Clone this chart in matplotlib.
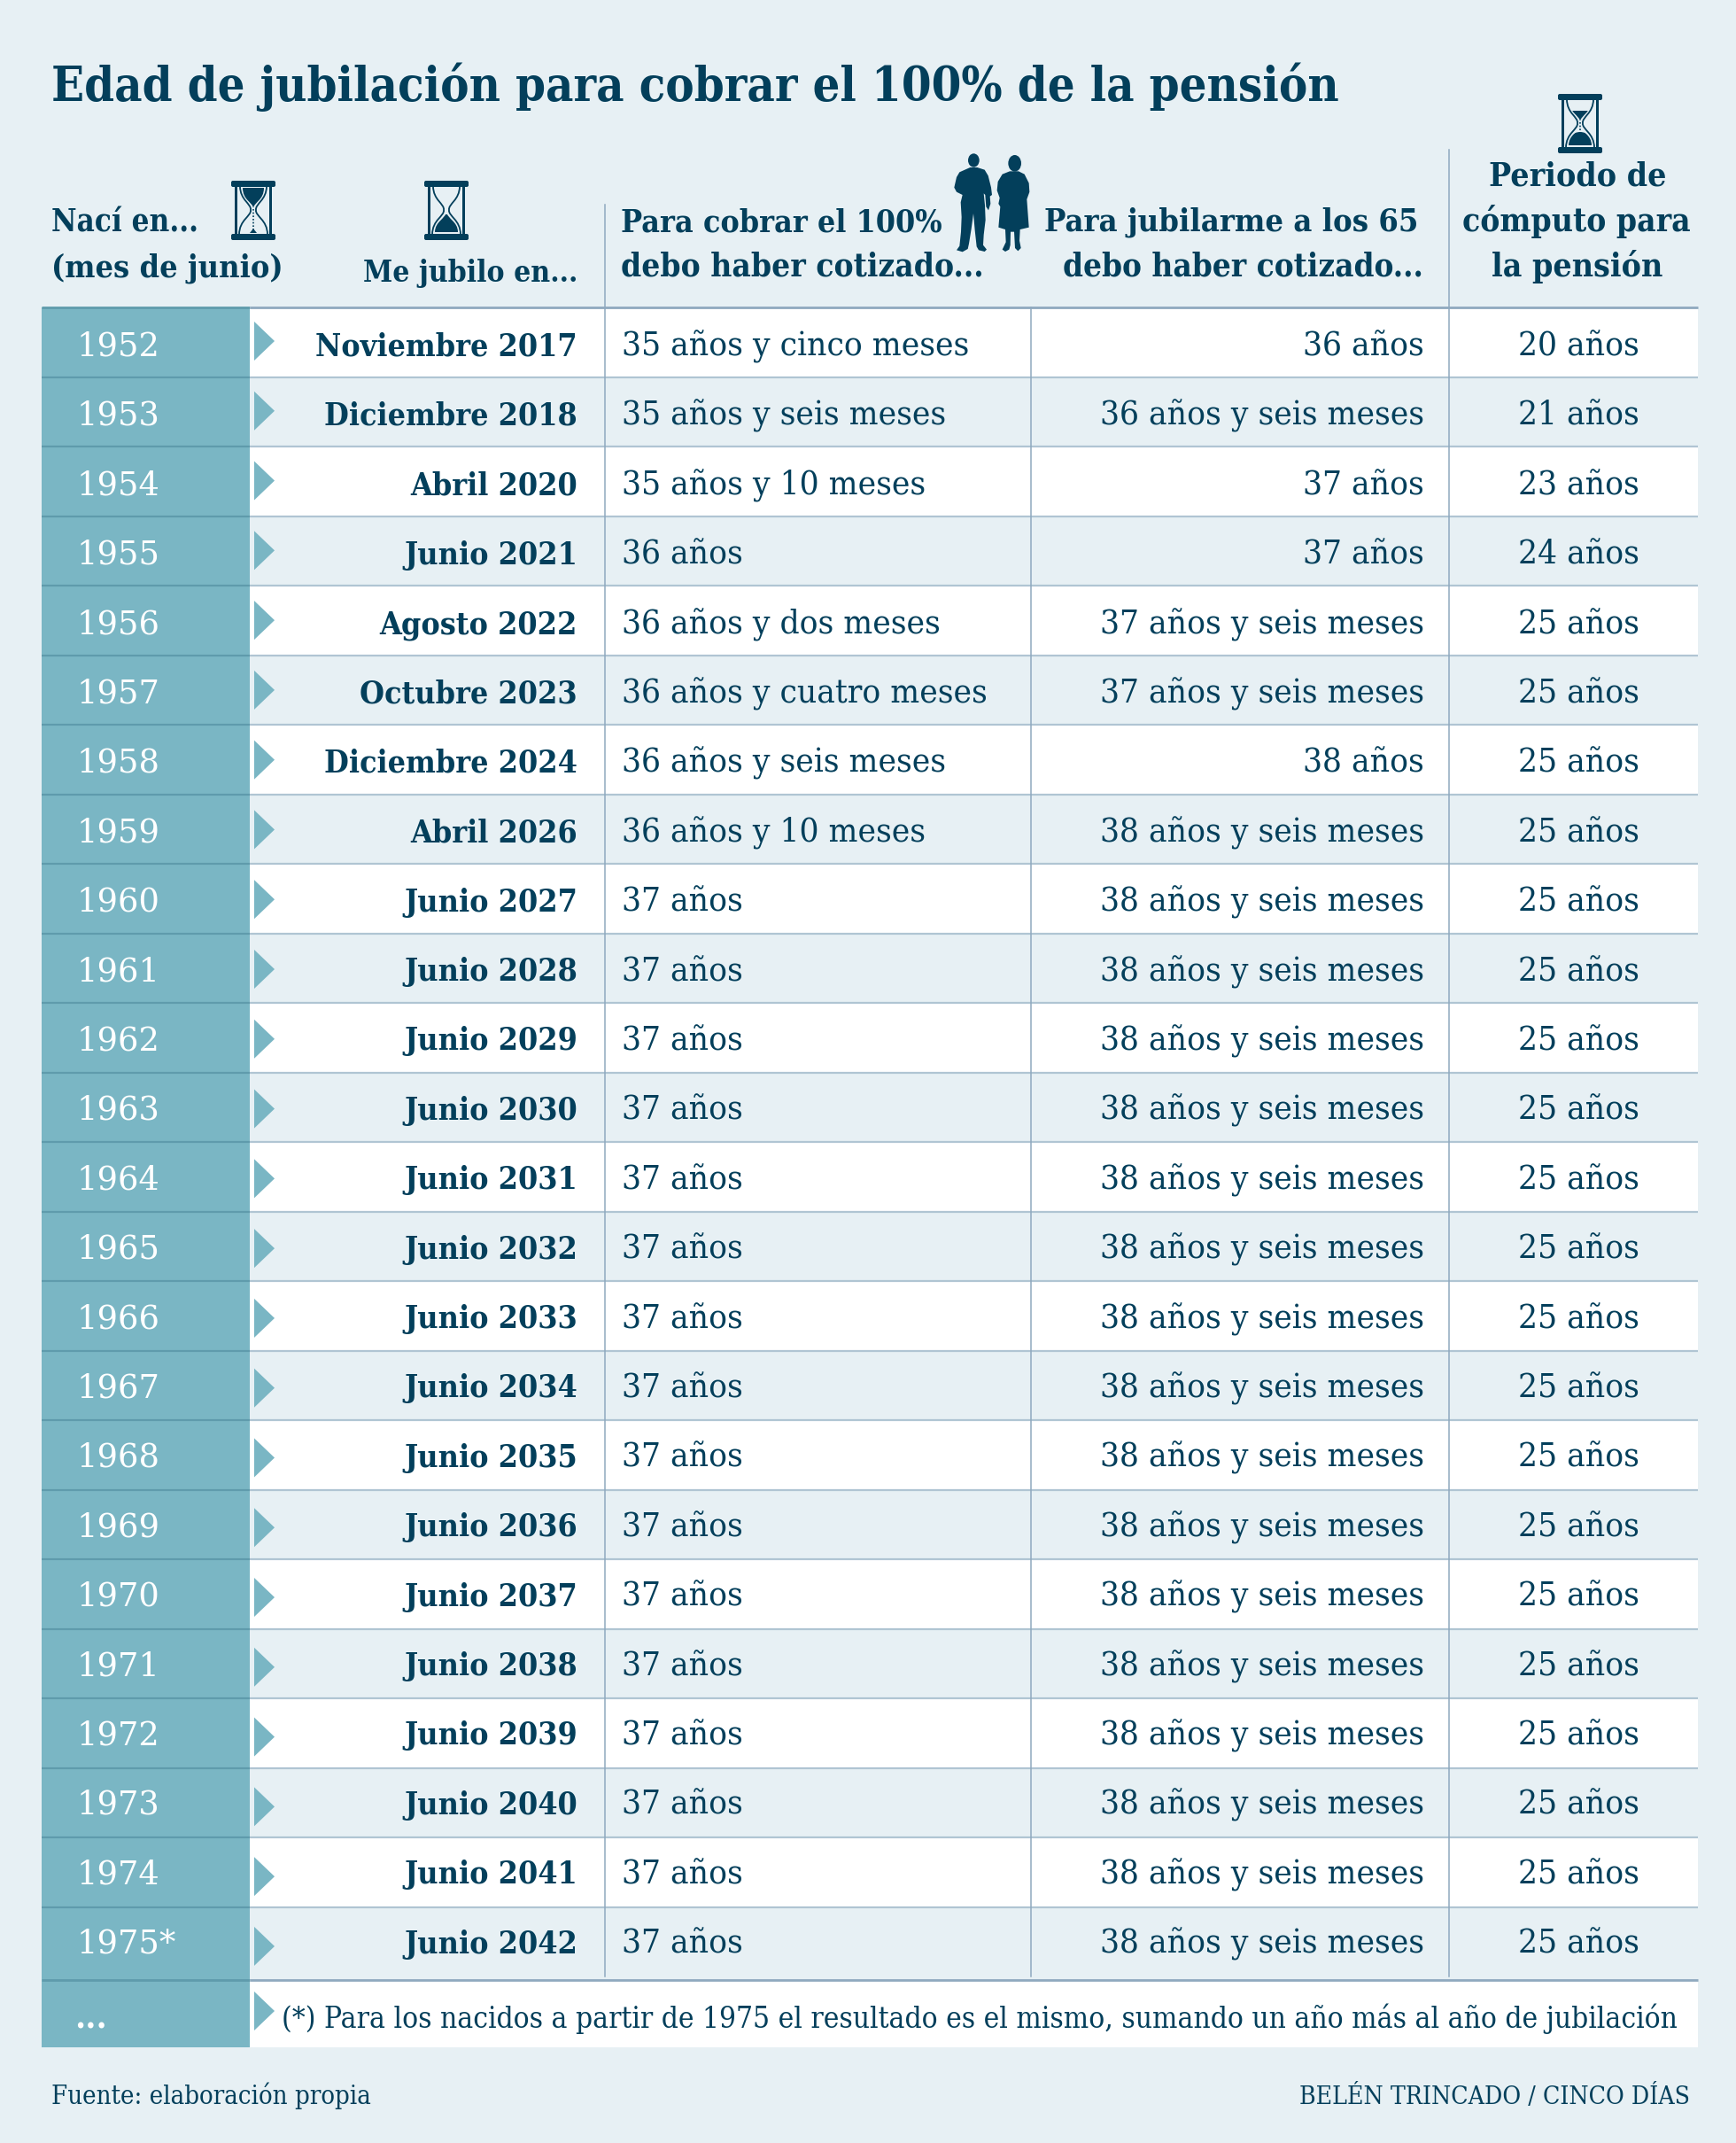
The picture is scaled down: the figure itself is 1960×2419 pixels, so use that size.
import matplotlib
matplotlib.use('Agg')
import matplotlib.pyplot as plt
from matplotlib.patches import Polygon, Ellipse, Rectangle, FancyBboxPatch, PathPatch
from matplotlib.path import Path

years = ['1952', '1953', '1954', '1955', '1956', '1957', '1958', '1959', '1960', '1961', '1962', '1963',
         '1964', '1965', '1966', '1967', '1968', '1969', '1970', '1971', '1972', '1973', '1974', '1975*']
retire = ['Noviembre 2017', 'Diciembre 2018', 'Abril 2020', 'Junio 2021', 'Agosto 2022', 'Octubre 2023',
          'Diciembre 2024', 'Abril 2026', 'Junio 2027', 'Junio 2028', 'Junio 2029', 'Junio 2030',
          'Junio 2031', 'Junio 2032', 'Junio 2033', 'Junio 2034', 'Junio 2035', 'Junio 2036',
          'Junio 2037', 'Junio 2038', 'Junio 2039', 'Junio 2040', 'Junio 2041', 'Junio 2042']
full_pension = ['35 años y cinco meses', '35 años y seis meses', '35 años y 10 meses', '36 años',
                '36 años y dos meses', '36 años y cuatro meses', '36 años y seis meses', '36 años y 10 meses'] + ['37 años'] * 16
at_65 = ['36 años', '36 años y seis meses', '37 años', '37 años', '37 años y seis meses', '37 años y seis meses',
         '38 años'] + ['38 años y seis meses'] * 17
period = ['20 años', '21 años', '23 años', '24 años'] + ['25 años'] * 20

BG = '#E7F0F4'
TEAL = '#7AB6C4'
TEAL_LINE = '#5F9BAC'
INK = '#033F5B'
LINE = '#B0C5D3'
LINE_TOP = '#8FA9BF'

SERIF = 'DejaVu Serif'

# silhouettes, in icon pixels
man_shape = [(100, 72), (125, 80), (137, 100), (147, 140), (150, 165), (143, 170), (145, 195), (138, 217), (130, 205),
             (127, 165), (122, 160), (126, 200), (128, 250), (122, 300), (120, 335), (132, 350), (125, 357), (105, 352),
             (98, 340), (92, 285), (87, 228), (80, 280), (72, 330), (68, 348), (50, 358), (30, 352), (40, 338), (45, 290),
             (47, 240), (44, 190), (50, 165), (30, 155), (22, 140), (30, 105), (40, 88), (76, 72)]
woman_shape = [(240, 85), (260, 95), (275, 125), (277, 155), (268, 180), (275, 275), (245, 282), (243, 320), (248, 345),
               (238, 355), (228, 345), (225, 290), (213, 290), (212, 335), (208, 350), (195, 357), (185, 350), (197, 325),
               (195, 282), (172, 275), (178, 205), (172, 195), (176, 175), (167, 150), (170, 120), (185, 95), (210, 85)]

fig = plt.figure(figsize=(19.6, 24.19), dpi=100, facecolor=BG)
ax = fig.add_axes([0, 0, 1, 1])
ax.set_xlim(0, 1960)
ax.set_ylim(2419, 0)
ax.axis('off')

left, teal_r, right = 47, 282, 1917
top, row_h = 347, 78.5
text_h = 78.4
arrow_h = 78.78
n = len(years)
bottom = 2235
end = 2311


def hourglass(x0, y0, top_level=None, bottom_level=None, dots=False, pile=False):
    w, h = 50, 67
    cx = x0 + w / 2
    for yy in (y0, y0 + h - 7):
        ax.add_patch(FancyBboxPatch((x0 + 2, yy + 2), w - 4, 3, boxstyle='round,pad=2', fc=INK, ec='none'))
    for xx in (x0 + 4, x0 + w - 7):
        ax.add_patch(Rectangle((xx, y0 + 5), 3, h - 10, fc=INK, ec='none'))
    C = Path.CURVE4
    # glass outline
    for s in (-1, 1):
        verts = [(cx + s * 15, y0 + 6), (cx + s * 15, y0 + 22), (cx + s * 2, y0 + 26), (cx + s * 3, y0 + 33),
                 (cx + s * 2, y0 + 40), (cx + s * 16, y0 + 44), (cx + s * 16, y0 + 61)]
        ax.add_patch(PathPatch(Path(verts, [Path.MOVETO, C, C, C, C, C, C]), fc='none', ec=INK, lw=1.3))
    if top_level is not None:
        verts = [(cx - 12, y0 + 8), (cx - 12, y0 + 22), (cx - 1, y0 + 24), (cx, y0 + 31),
                 (cx + 1, y0 + 24), (cx + 12, y0 + 22), (cx + 12, y0 + 8), (cx - 12, y0 + 8)]
        clip = PathPatch(Path(verts, [Path.MOVETO, C, C, C, C, C, C, Path.CLOSEPOLY]), fc='none', ec='none')
        ax.add_patch(clip)
        sand = Rectangle((cx - 14, y0 + top_level), 28, 32 - top_level, fc=INK, ec='none')
        ax.add_patch(sand)
        sand.set_clip_path(clip)
    if bottom_level is not None:
        verts = [(cx, y0 + 35), (cx - 1, y0 + 43), (cx - 13, y0 + 46), (cx - 13, y0 + 58),
                 (cx + 13, y0 + 58), (cx + 13, y0 + 46), (cx + 1, y0 + 43), (cx, y0 + 35)]
        clip = PathPatch(Path(verts, [Path.MOVETO, C, C, C, Path.LINETO, C, C, C]), fc='none', ec='none')
        ax.add_patch(clip)
        sand = Ellipse((cx, y0 + 58), 30, 2 * (58 - bottom_level), fc=INK, ec='none')
        ax.add_patch(sand)
        sand.set_clip_path(clip)
    if dots:
        ax.plot([cx, cx], [y0 + 32, y0 + 58], color=INK, lw=1.2, ls=(0, (1, 1.2)))
    if pile:
        ax.add_patch(Polygon([(cx - 4, y0 + 59), (cx, y0 + 54), (cx + 4, y0 + 59)], fc=INK, ec='none'))


# background stripes and first column
for i in range(n):
    y = top + i * row_h
    if i % 2 == 0:
        ax.add_patch(Rectangle((teal_r, y), right - teal_r, row_h, fc='white', ec='none'))
ax.add_patch(Rectangle((teal_r, bottom), right - teal_r, end - bottom, fc='white', ec='none'))
ax.add_patch(Rectangle((left, top), teal_r - left, end - top, fc=TEAL, ec='none'))

# row lines
for i in range(1, n):
    y = top + i * row_h
    ax.plot([left, teal_r], [y, y], color=TEAL_LINE, lw=1.6, solid_capstyle='butt')
    ax.plot([teal_r, right], [y, y], color=LINE, lw=1.6, solid_capstyle='butt')
for y in (top, bottom):
    ax.plot([left, teal_r], [y, y], color=TEAL_LINE, lw=2, solid_capstyle='butt')
    ax.plot([teal_r, right], [y, y], color=LINE_TOP, lw=2, solid_capstyle='butt')

# column lines
ax.plot([683, 683], [231, bottom - 4], color=LINE_TOP, lw=1.1)
ax.plot([1164, 1164], [top, bottom - 4], color=LINE_TOP, lw=1.1)
ax.plot([1636, 1636], [169, bottom - 4], color=LINE_TOP, lw=1.1)

# rows
size_body = 27.7
size_bold = 25.7
plain = dict(family=SERIF, fontstretch='condensed')
cond = dict(family=SERIF, fontstretch='condensed', fontweight='bold')
for i in range(n):
    mid = top + i * arrow_h + 38
    ax.add_patch(Polygon([(287, mid - 22), (310, mid), (287, mid + 22)], fc=TEAL, ec='none'))
    base = top + i * text_h + 54.5
    ax.text(86, base, years[i], color='white', fontsize=26.5, family=SERIF, va='baseline')
    ax.text(652, base, retire[i], color=INK, fontsize=size_bold, ha='right', va='baseline', **cond)
    ax.text(702, base, full_pension[i], color=INK, fontsize=size_body, va='baseline', **plain)
    ax.text(1608, base, at_65[i], color=INK, fontsize=size_body, ha='right', va='baseline', **plain)
    ax.text(1714, base, period[i], color=INK, fontsize=size_body, va='baseline', **plain)

# last row
ax.add_patch(Polygon([(287, 2248), (310, 2270), (287, 2292)], fc=TEAL, ec='none'))
ax.text(84, 2289, '...', color='white', fontsize=25, family=SERIF, fontweight='bold', va='baseline')
ax.text(318, 2289, '(*) Para los nacidos a partir de 1975 el resultado es el mismo, sumando un año más al año de jubilación',
        color=INK, fontsize=23.98, va='baseline', **plain)

# title and headers
ax.text(58, 114, 'Edad de jubilación para cobrar el 100% de la pensión', color=INK, fontsize=39, va='baseline', **cond)
head = dict(color=INK, va='baseline', **cond)
ax.text(58, 262, 'Nací en...', fontsize=25, **head)
ax.text(58, 312, '(mes de junio)', fontsize=25.8, **head)
ax.text(652, 318, 'Me jubilo en...', ha='right', fontsize=24.1, **head)
ax.text(701, 261, 'Para cobrar el 100%', fontsize=25.7, **head)
ax.text(701, 312, 'debo haber cotizado...', fontsize=26.6, **head)
ax.text(1179, 261, 'Para jubilarme a los 65', fontsize=26, **head)
ax.text(1607, 312, 'debo haber cotizado...', ha='right', fontsize=26.4, **head)
ax.text(1781, 209, 'Periodo de', ha='center', fontsize=26.8, **head)
ax.text(1780, 261, 'cómputo para', ha='center', fontsize=26.6, **head)
ax.text(1781, 312, 'la pensión', ha='center', fontsize=26.8, **head)

# icons
hourglass(261, 204, top_level=8, dots=True, pile=True)
hourglass(479, 204, bottom_level=38)
hourglass(1759, 106, top_level=19, bottom_level=43, dots=True)
ax.add_patch(Polygon([(1070 + x / 3, 165 + y / 3) for x, y in man_shape], fc=INK, ec='none'))
ax.add_patch(Ellipse((1070 + 88 / 3, 165 + 48 / 3), 38 / 3, 46 / 3, fc=INK, ec='none'))
ax.add_patch(Polygon([(1070 + x / 3, 165 + y / 3) for x, y in woman_shape], fc=INK, ec='none'))
ax.add_patch(Ellipse((1070 + 227 / 3, 165 + 58 / 3), 44 / 3, 56 / 3, fc=INK, ec='none'))

# footer
ax.text(58, 2375, 'Fuente: elaboración propia', color=INK, fontsize=21, va='baseline', **plain)
ax.text(1908, 2375, 'BELÉN TRINCADO / CINCO DÍAS', color=INK, fontsize=20.3, ha='right', va='baseline', **plain)

fig.savefig('out.png', dpi=100, facecolor=BG)
